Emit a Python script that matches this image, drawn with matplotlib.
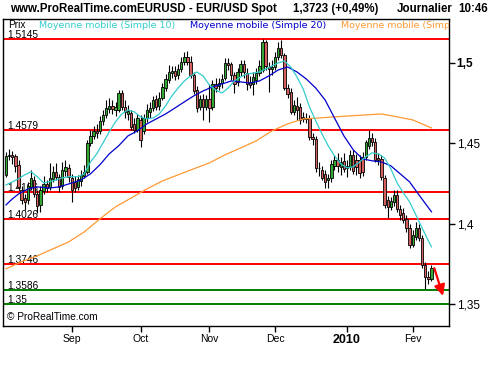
import matplotlib
matplotlib.use('Agg')
import matplotlib.pyplot as plt
import pandas as pd

# daily EUR/USD candles, 3 Aug 2009 -> 9 Feb 2010
dates = pd.bdate_range('2009-08-03', '2010-02-09')

opens = [1.4303, 1.4421, 1.4427, 1.4421, 1.4365, 1.4209, 1.4159, 1.4147, 1.4228, 1.4271,
         1.4184, 1.4116, 1.4203, 1.4246, 1.4228, 1.4278, 1.4322, 1.4291, 1.4234, 1.4328,
         1.4346, 1.4284, 1.4259, 1.4228, 1.4265, 1.4297, 1.4322, 1.4501, 1.4545, 1.4576,
         1.4576, 1.4638, 1.4675, 1.4712, 1.4731, 1.4706, 1.4706, 1.4811, 1.4725, 1.4681,
         1.4687, 1.4619, 1.4582, 1.4644, 1.4576, 1.4656, 1.4694, 1.4718, 1.4774, 1.4731,
         1.4780, 1.4842, 1.4892, 1.4935, 1.4948, 1.4923, 1.4960, 1.5004, 1.5035, 1.5004,
         1.4923, 1.4830, 1.4725, 1.4774, 1.4725, 1.4774, 1.4725, 1.4867, 1.4855, 1.4873,
         1.4904, 1.4998, 1.4991, 1.4923, 1.4880, 1.4942, 1.4991, 1.4935, 1.4880, 1.4867,
         1.4892, 1.4935, 1.4954, 1.5129, 1.4973, 1.4960, 1.4973, 1.5035, 1.5091, 1.5048,
         1.4842, 1.4818, 1.4694, 1.4731, 1.4725, 1.4663, 1.4650, 1.4656, 1.4539, 1.4526,
         1.4346, 1.4334, 1.4309, 1.4271, 1.4284, 1.4359, 1.4396, 1.4353, 1.4390, 1.4346,
         1.4353, 1.4427, 1.4396, 1.4396, 1.4415, 1.4415, 1.4483, 1.4532, 1.4507, 1.4408,
         1.4402, 1.4284, 1.4147, 1.4104, 1.4135, 1.4178, 1.4091, 1.4066, 1.4029, 1.3973,
         1.3868, 1.3918, 1.3973, 1.3911, 1.3744, 1.3669, 1.3656]
highs = [1.4446, 1.4464, 1.4452, 1.4433, 1.4396, 1.4234, 1.4184, 1.4259, 1.4334, 1.4296,
         1.4209, 1.4234, 1.4296, 1.4271, 1.4377, 1.4359, 1.4377, 1.4309, 1.4383, 1.4396,
         1.4371, 1.4309, 1.4296, 1.4303, 1.4334, 1.4365, 1.4520, 1.4582, 1.4607, 1.4619,
         1.4669, 1.4706, 1.4768, 1.4780, 1.4768, 1.4756, 1.4830, 1.4830, 1.4768, 1.4737,
         1.4706, 1.4656, 1.4681, 1.4675, 1.4681, 1.4743, 1.4756, 1.4793, 1.4799, 1.4818,
         1.4873, 1.4929, 1.4985, 1.4979, 1.4979, 1.4991, 1.5035, 1.5066, 1.5073, 1.5041,
         1.4942, 1.4855, 1.4799, 1.4805, 1.4799, 1.4867, 1.4892, 1.4904, 1.4904, 1.4929,
         1.5029, 1.5029, 1.5004, 1.4942, 1.4967, 1.5016, 1.5016, 1.4967, 1.4917, 1.4942,
         1.4967, 1.5016, 1.5147, 1.5141, 1.5004, 1.5016, 1.5066, 1.5129, 1.5141, 1.5060,
         1.4867, 1.4842, 1.4768, 1.4787, 1.4749, 1.4694, 1.4687, 1.4675, 1.4563, 1.4545,
         1.4383, 1.4359, 1.4334, 1.4309, 1.4396, 1.4427, 1.4439, 1.4415, 1.4439, 1.4396,
         1.4458, 1.4458, 1.4433, 1.4427, 1.4446, 1.4520, 1.4582, 1.4563, 1.4532, 1.4439,
         1.4427, 1.4303, 1.4172, 1.4166, 1.4209, 1.4209, 1.4116, 1.4097, 1.4054, 1.3998,
         1.3961, 1.4011, 1.3998, 1.3930, 1.3762, 1.3706, 1.3744]
lows = [1.4291, 1.4396, 1.4371, 1.4322, 1.4209, 1.4122, 1.4085, 1.4122, 1.4209, 1.4166,
        1.4066, 1.4073, 1.4184, 1.4197, 1.4209, 1.4259, 1.4271, 1.4197, 1.4215, 1.4297,
        1.4259, 1.4135, 1.4197, 1.4209, 1.4234, 1.4284, 1.4309, 1.4483, 1.4526, 1.4532,
        1.4557, 1.4613, 1.4656, 1.4687, 1.4681, 1.4669, 1.4694, 1.4706, 1.4656, 1.4644,
        1.4582, 1.4563, 1.4570, 1.4477, 1.4557, 1.4632, 1.4656, 1.4700, 1.4706, 1.4706,
        1.4768, 1.4824, 1.4873, 1.4904, 1.4892, 1.4898, 1.4942, 1.4985, 1.4985, 1.4904,
        1.4805, 1.4694, 1.4706, 1.4644, 1.4706, 1.4632, 1.4706, 1.4818, 1.4830, 1.4842,
        1.4892, 1.4954, 1.4892, 1.4811, 1.4855, 1.4917, 1.4904, 1.4830, 1.4842, 1.4799,
        1.4867, 1.4917, 1.4942, 1.4954, 1.4818, 1.4923, 1.4954, 1.5016, 1.5029, 1.4830,
        1.4780, 1.4681, 1.4675, 1.4644, 1.4619, 1.4632, 1.4626, 1.4520, 1.4489, 1.4322,
        1.4297, 1.4271, 1.4221, 1.4221, 1.4259, 1.4334, 1.4322, 1.4303, 1.4322, 1.4291,
        1.4334, 1.4309, 1.4303, 1.4284, 1.4297, 1.4396, 1.4464, 1.4483, 1.4383, 1.4365,
        1.4271, 1.4097, 1.4035, 1.4085, 1.4110, 1.4073, 1.4023, 1.4004, 1.3949, 1.3849,
        1.3856, 1.3899, 1.3893, 1.3725, 1.3594, 1.3625, 1.3644]
closes = [1.4421, 1.4427, 1.4415, 1.4359, 1.4228, 1.4147, 1.4135, 1.4234, 1.4284, 1.4184,
          1.4110, 1.4209, 1.4246, 1.4221, 1.4284, 1.4322, 1.4291, 1.4228, 1.4334, 1.4353,
          1.4291, 1.4209, 1.4221, 1.4278, 1.4303, 1.4322, 1.4501, 1.4545, 1.4576, 1.4563,
          1.4638, 1.4675, 1.4718, 1.4731, 1.4712, 1.4725, 1.4811, 1.4725, 1.4694, 1.4700,
          1.4601, 1.4582, 1.4656, 1.4520, 1.4656, 1.4706, 1.4718, 1.4768, 1.4725, 1.4780,
          1.4849, 1.4898, 1.4942, 1.4948, 1.4917, 1.4960, 1.5004, 1.5035, 1.5004, 1.4923,
          1.4824, 1.4718, 1.4774, 1.4725, 1.4774, 1.4718, 1.4867, 1.4842, 1.4873, 1.4898,
          1.4998, 1.4985, 1.4923, 1.4867, 1.4942, 1.4991, 1.4942, 1.4867, 1.4861, 1.4911,
          1.4935, 1.4979, 1.5129, 1.4979, 1.4960, 1.4973, 1.5035, 1.5091, 1.5048, 1.4842,
          1.4805, 1.4694, 1.4737, 1.4706, 1.4644, 1.4650, 1.4656, 1.4539, 1.4526, 1.4346,
          1.4343, 1.4284, 1.4259, 1.4284, 1.4371, 1.4396, 1.4359, 1.4383, 1.4340, 1.4359,
          1.4427, 1.4328, 1.4353, 1.4315, 1.4322, 1.4507, 1.4532, 1.4507, 1.4396, 1.4396,
          1.4291, 1.4116, 1.4104, 1.4141, 1.4178, 1.4091, 1.4054, 1.4023, 1.3973, 1.3868,
          1.3930, 1.3973, 1.3911, 1.3744, 1.3669, 1.3656, 1.3723]

# moving averages (candle index, price)
ma10_idx = [0, 2, 4, 6, 8, 10, 12, 15, 18, 20, 23, 25, 27, 29, 31, 33, 35, 37, 39, 41,
            43, 45, 47, 49, 51, 53, 55, 57, 59, 61, 63, 65, 67, 69, 71, 73, 75, 77, 79, 81,
            83, 85, 87, 89, 91, 93, 95, 97, 99, 101, 103, 105, 107, 109, 111, 113, 115, 117,
            119, 121, 123, 125, 127, 129, 131, 133, 135, 136]
ma10 = [1.4240, 1.4259, 1.4278, 1.4303, 1.4322, 1.4291, 1.4253, 1.4265, 1.4284, 1.4291,
        1.4291, 1.4309, 1.4383, 1.4433, 1.4501, 1.4570, 1.4632, 1.4681, 1.4706, 1.4694,
        1.4663, 1.4650, 1.4656, 1.4681, 1.4731, 1.4793, 1.4842, 1.4886, 1.4917, 1.4942,
        1.4917, 1.4861, 1.4830, 1.4811, 1.4842, 1.4886, 1.4911, 1.4929, 1.4935, 1.4942,
        1.4960, 1.4979, 1.4998, 1.5010, 1.4973, 1.4911, 1.4836, 1.4725, 1.4638, 1.4557,
        1.4483, 1.4421, 1.4371, 1.4346, 1.4353, 1.4383, 1.4415, 1.4439, 1.4433, 1.4408,
        1.4340, 1.4253, 1.4191, 1.4135, 1.4054, 1.3973, 1.3893, 1.3856]
ma20_idx = [0, 2, 4, 7, 10, 14, 17, 20, 24, 27, 30, 33, 36, 39, 42, 45, 48, 51, 54, 57,
            60, 63, 66, 69, 72, 75, 78, 81, 84, 87, 90, 93, 96, 99, 102, 105, 108, 111, 114,
            117, 120, 123, 126, 129, 132, 136]
ma20 = [1.4116, 1.4153, 1.4184, 1.4215, 1.4228, 1.4221, 1.4228, 1.4246, 1.4271, 1.4309,
        1.4365, 1.4433, 1.4483, 1.4545, 1.4576, 1.4619, 1.4650, 1.4681, 1.4718, 1.4756,
        1.4793, 1.4824, 1.4849, 1.4867, 1.4886, 1.4880, 1.4873, 1.4886, 1.4917, 1.4954,
        1.4973, 1.4942, 1.4898, 1.4842, 1.4768, 1.4656, 1.4545, 1.4458, 1.4402, 1.4390,
        1.4383, 1.4359, 1.4309, 1.4259, 1.4178, 1.4073]
ma_long_idx = [0, 5, 10, 15, 20, 25, 30, 35, 40, 45, 50, 55, 60, 65, 70, 75, 80, 85, 90,
               95, 100, 105, 110, 115, 120, 125, 130, 136]
ma_long = [1.3719, 1.3763, 1.3800, 1.3843, 1.3886, 1.3948, 1.4029, 1.4104, 1.4159, 1.4215,
           1.4265, 1.4303, 1.4340, 1.4377, 1.4427, 1.4470, 1.4514, 1.4576, 1.4619, 1.4650,
           1.4656, 1.4663, 1.4669, 1.4675, 1.4681, 1.4663, 1.4644, 1.4594]

levels = [1.5145, 1.4579, 1.4196, 1.4026, 1.3746, 1.3586, 1.35]
level_labels = ['1,5145', '1,4579', '1,4196', '1,4026', '1,3746', '1,3586', '1,35']
level_colors = ['#ff0000', '#ff0000', '#ff0000', '#ff0000', '#ff0000', '#008000', '#008000']

month_names = ['Sep', 'Oct', 'Nov', 'Dec', '2010', 'Fev']
price_ticks = [1.35, 1.4, 1.45, 1.5]
price_labels = ['1,35', '1,4', '1,45', '1,5']

plt.rcParams['font.family'] = ['Liberation Sans', 'DejaVu Sans']

fig = plt.figure(figsize=(5, 3.7), dpi=100)
ax = fig.add_axes([0.006, 0.119, 0.892, 0.8297])

x = list(range(len(dates)))
body_colors = ['#33a833' if c >= o else '#d45f5f' for o, c in zip(opens, closes)]
ax.vlines(x, lows, highs, color='black', lw=0.8, zorder=3)
ax.bar(x, [c - o for o, c in zip(opens, closes)], bottom=opens, width=0.75,
       color=body_colors, edgecolor='black', linewidth=0.6, zorder=4)

for lvl, lab, col in zip(levels, level_labels, level_colors):
    ax.axhline(lvl, color=col, lw=1.4, zorder=2)
    ax.text(0.009, lvl, lab, transform=ax.get_yaxis_transform(), va='bottom',
            ha='left', fontsize=7.3, zorder=1)

ax.plot(ma_long_idx, ma_long, color='#ff9933', lw=0.9, zorder=5)
ax.plot(ma20_idx, ma20, color='#0000cc', lw=0.9, zorder=5)
ax.plot(ma10_idx, ma10, color='#33cccc', lw=0.9, zorder=5)

# legend row
leg_y = 0.98
ax.text(0.011, leg_y, 'Prix', transform=ax.transAxes, va='center', fontsize=7.3)
ax.text(0.081, leg_y, 'Moyenne mobile (Simple 10)', transform=ax.transAxes,
        va='center', fontsize=6.8, color='#33cccc', family='DejaVu Sans')
ax.text(0.419, leg_y, 'Moyenne mobile (Simple 20)', transform=ax.transAxes,
        va='center', fontsize=6.8, color='#0000cc', family='DejaVu Sans')
ax.text(0.758, leg_y, 'Moyenne mobile (Simple 100)', transform=ax.transAxes,
        va='center', fontsize=6.8, color='#ff9933', family='DejaVu Sans', clip_on=True)

ax.text(0.009, 0.028, '\u00a9 ProRealTime.com', transform=ax.transAxes, va='center', fontsize=7.3)

ax.annotate('', xy=(139.7, 1.3551), xytext=(136.9, 1.3723),
            arrowprops=dict(arrowstyle='-|>', color='#ff0000', lw=1.6,
                            mutation_scale=16, shrinkA=0, shrinkB=0),
            zorder=6)

ax.set_xlim(-0.96, 141.6)
ax.set_ylim(1.3364, 1.5271)

ax.yaxis.tick_right()
ax.set_yticks(price_ticks, price_labels)
ax.tick_params(axis='y', direction='out', length=4, width=1, pad=1.5, labelsize=8.5)
ax.get_yticklabels()[-1].set_fontweight('bold')

month_pos = [i for i in range(1, len(dates)) if dates[i].month != dates[i - 1].month]
ax.set_xticks(month_pos, month_names)
ax.tick_params(axis='x', direction='out', length=4, width=1, pad=2, labelsize=7.5)
lab2010 = ax.get_xticklabels()[4]
lab2010.set_fontweight('bold')
lab2010.set_fontsize(9)

for s in ax.spines.values():
    s.set_linewidth(1)

hy = 1 - 9 / 370
fig.text(10 / 500, hy, 'www.ProRealTime.comEURUSD - EUR/USD Spot', fontsize=8.3,
         fontweight='bold', va='center')
fig.text(293 / 500, hy, '1,3723 (+0,49%)', fontsize=8.3, fontweight='bold', va='center')
fig.text(397 / 500, hy, 'Journalier', fontsize=8.3, fontweight='bold', va='center')
fig.text(458 / 500, hy, '10:46', fontsize=8.3, fontweight='bold', va='center')

fig.savefig('out.png', dpi=100)
